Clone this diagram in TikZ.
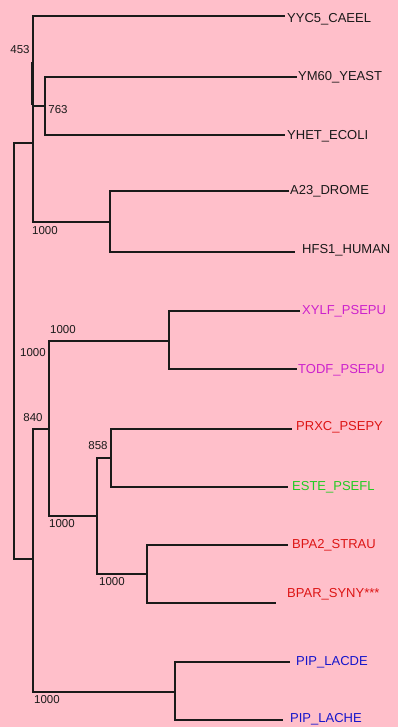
\documentclass[tikz,border=0pt]{standalone}
\usepackage{fontspec}
\setmainfont{Liberation Sans}
\definecolor{bgpink}{HTML}{FFBFCA}
\definecolor{linec}{HTML}{1A1A1A}
\definecolor{magc}{HTML}{CC22CC}
\definecolor{redc}{HTML}{DD1515}
\definecolor{grnc}{HTML}{22CC22}
\definecolor{bluc}{HTML}{1515CC}
\tikzset{
  branch/.style={draw=linec, line width=1.6pt},
  leaf/.style={anchor=west, inner sep=0pt, font=\fontsize{13}{13}\selectfont},
  boot/.style={inner sep=0pt, font=\fontsize{11.5}{11.5}\selectfont, text=linec},
}
\begin{document}
\begin{tikzpicture}[x=1pt, y=-1pt]
\fill[bgpink] (0,0) rectangle (398,727);
\useasboundingbox (0,0) rectangle (398,727);
% internal nodes
\coordinate (R) at (14,351);
\coordinate (A) at (33,143);
\coordinate (N763) at (45,106);
\coordinate (NH) at (110,222);
\coordinate (B) at (33,559);
\coordinate (C) at (49,429);
\coordinate (NP) at (169,341);
\coordinate (D) at (97,516);
\coordinate (E) at (111,458);
\coordinate (F) at (147,574);
\coordinate (NL) at (175,692);
% leaf ends
\coordinate (l1) at (285,16);
\coordinate (l2) at (297,77);
\coordinate (l3) at (285,135);
\coordinate (l4) at (289,191);
\coordinate (l5) at (295,252);
\coordinate (l6) at (300,311);
\coordinate (l7) at (297,369);
\coordinate (l8) at (292,429);
\coordinate (l9) at (288,487);
\coordinate (l10) at (288,545);
\coordinate (l11) at (276,603);
\coordinate (l12) at (290,662);
\coordinate (l13) at (283,720);
% branches
\draw[branch] (R) |- (A);
\draw[branch] (R) |- (B);
\draw[branch] (A) |- (l1);
\draw[branch] (A) |- (N763);
\draw[branch] (A) |- (NH);
\draw[branch] (N763) |- (l2);
\draw[branch] (N763) |- (l3);
\draw[branch] (NH) |- (l4);
\draw[branch] (NH) |- (l5);
\draw[branch] (B) |- (C);
\draw[branch] (B) |- (NL);
\draw[branch] (C) |- (NP);
\draw[branch] (C) |- (D);
\draw[branch] (NP) |- (l6);
\draw[branch] (NP) |- (l7);
\draw[branch] (D) |- (E);
\draw[branch] (D) |- (F);
\draw[branch] (E) |- (l8);
\draw[branch] (E) |- (l9);
\draw[branch] (F) |- (l10);
\draw[branch] (F) |- (l11);
\draw[branch] (NL) |- (l12);
\draw[branch] (NL) |- (l13);
% thick segment
\coordinate (t1) at (32.5,62);
\coordinate (t2) at (32.5,105);
\draw[linec, line width=3pt] (t1) -- (t2);
% leaf labels
\node[leaf, text=linec] (t1n) at (287,19) {YYC5\_CAEEL};
\node[leaf, text=linec] (t2n) at (298,77) {YM60\_YEAST};
\node[leaf, text=linec] (t3n) at (287,136) {YHET\_ECOLI};
\node[leaf, text=linec] (t4n) at (290,191) {A23\_DROME};
\node[leaf, text=linec] (t5n) at (302,250) {HFS1\_HUMAN};
\node[leaf, text=magc] (t6n) at (302,311) {XYLF\_PSEPU};
\node[leaf, text=magc] (t7n) at (298,370) {TODF\_PSEPU};
\node[leaf, text=redc] (t8n) at (296,427) {PRXC\_PSEPY};
\node[leaf, text=grnc] (t9n) at (292,487) {ESTE\_PSEFL};
\node[leaf, text=redc] (t10n) at (292,545) {BPA2\_STRAU};
\node[leaf, text=redc] (t11n) at (287,594) {BPAR\_SYNY***};
\node[leaf, text=bluc] (t12n) at (296,662) {PIP\_LACDE};
\node[leaf, text=bluc] (t13n) at (290,719) {PIP\_LACHE};
% bootstrap values
\node[boot] (b1) at (20,50) {453};
\node[boot] (b2) at (58,110) {763};
\node[boot] (b3) at (45,231) {1000};
\node[boot] (b4) at (63,330) {1000};
\node[boot] (b5) at (33,353) {1000};
\node[boot] (b6) at (33,418) {840};
\node[boot] (b7) at (98,446) {858};
\node[boot] (b8) at (62,524) {1000};
\node[boot] (b9) at (112,582) {1000};
\node[boot] (b10) at (47,700) {1000};
\end{tikzpicture}
\end{document}
